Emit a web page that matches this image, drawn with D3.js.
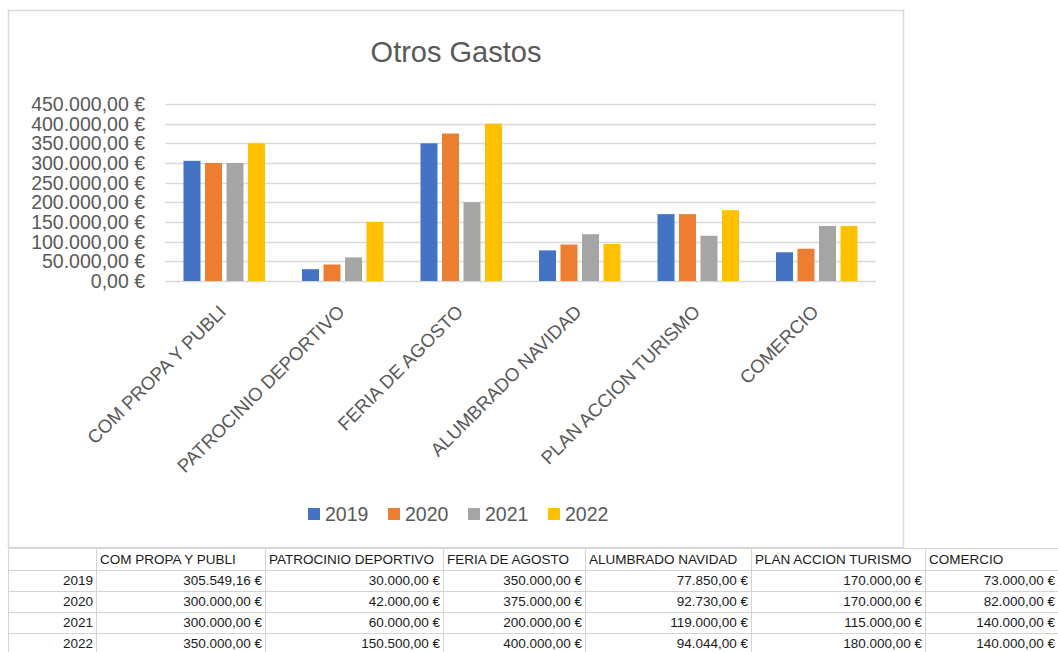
<!DOCTYPE html>
<html>
<head>
<meta charset="utf-8">
<script src="https://cdn.jsdelivr.net/npm/d3@7"></script>
<style>
  html, body { margin: 0; padding: 0; background: #fff; }
  svg { display: block; font-family: "Liberation Sans", Arial, sans-serif; }
</style>
</head>
<body>
<svg id="chart" width="1058" height="652"></svg>
<script>
const title = "Otros Gastos";
const categories = ["COM PROPA Y PUBLI", "PATROCINIO DEPORTIVO", "FERIA DE AGOSTO", "ALUMBRADO NAVIDAD", "PLAN ACCION TURISMO", "COMERCIO"];
const years = ["2019", "2020", "2021", "2022"];
const values2019 = [305549.16, 30000, 350000, 77850, 170000, 73000];
const values2020 = [300000, 42000, 375000, 92730, 170000, 82000];
const values2021 = [300000, 60000, 200000, 119000, 115000, 140000];
const values2022 = [350000, 150500, 400000, 94044, 180000, 140000];
const yTicks = [0, 50000, 100000, 150000, 200000, 250000, 300000, 350000, 400000, 450000];
const colors = ["#4472C4", "#ED7D31", "#A5A5A5", "#FFC000"];

const series = [values2019, values2020, values2021, values2022];

const locale = d3.formatLocale({ decimal: ",", thousands: ".", grouping: [3], currency: ["", " €"] });
const fmt = locale.format("$,.2f");

const svg = d3.select("#chart");
const W = 1058, H = 652;

// chart box
svg.append("rect").attr("x", 8.5).attr("y", 10.5).attr("width", 895).attr("height", 537)
  .attr("fill", "#fff").attr("stroke", "#d9d9d9").attr("stroke-width", 1.5);

svg.append("text").attr("x", 456).attr("y", 62).attr("text-anchor", "middle")
  .attr("font-size", 29).attr("fill", "#595959").text(title);

const plot = { left: 165, right: 876, top: 104, bottom: 281 };
const y = d3.scaleLinear().domain([0, 450000]).range([plot.bottom, plot.top]);
const x0 = d3.scaleBand().domain(categories).range([plot.left, plot.right]).padding(0);
const x1 = d3.scaleBand().domain(years).range([18.5, 100]).paddingInner(0.21).paddingOuter(0);

// gridlines
svg.append("g").selectAll("line").data(yTicks).join("line")
  .attr("x1", plot.left).attr("x2", plot.right)
  .attr("y1", d => Math.round(y(d)) + 0.5).attr("y2", d => Math.round(y(d)) + 0.5)
  .attr("stroke", "#d9d9d9").attr("stroke-width", 1.5);

// y labels
svg.append("g").selectAll("text").data(yTicks).join("text")
  .attr("x", 145).attr("y", d => y(d)).attr("dy", "0.36em")
  .attr("text-anchor", "end").attr("font-size", 19.5).attr("fill", "#595959")
  .text(d => fmt(d));

// bars
const groups = svg.append("g").selectAll("g").data(categories).join("g")
  .attr("transform", d => `translate(${x0(d)},0)`);
groups.selectAll("rect").data((c, i) => years.map((yr, j) => ({ yr, v: series[j][i], j })))
  .join("rect")
  .attr("x", d => x1(d.yr)).attr("width", x1.bandwidth())
  .attr("y", d => y(d.v)).attr("height", d => y(0) - y(d.v))
  .attr("fill", d => colors[d.j]);

// x labels
svg.append("g").selectAll("text").data(categories).join("text")
  .attr("transform", d => `translate(${x0(d) + x0.bandwidth() / 2 + 3},${plot.bottom + 32}) rotate(-45)`)
  .attr("text-anchor", "end").attr("font-size", 18.6).attr("fill", "#595959")
  .text(d => d);

// legend
const lg = svg.append("g").selectAll("g").data(years).join("g")
  .attr("transform", (d, i) => `translate(${308 + i * 80},508)`);
lg.append("rect").attr("width", 12).attr("height", 12).attr("fill", (d, i) => colors[i]);
lg.append("text").attr("x", 17).attr("y", 6).attr("dy", "0.36em")
  .attr("font-size", 19.5).attr("fill", "#595959").text(d => d);

// table
const colEdges = [8, 96, 265, 443, 585, 751, 925, 1060];
const rowEdges = [548, 570, 591, 612, 633, 654];
const tg = svg.append("g");
tg.append("rect").attr("x", 0).attr("y", 548).attr("width", W).attr("height", 110).attr("fill", "#fff");
rowEdges.forEach(r => tg.append("line").attr("x1", 8).attr("x2", W).attr("y1", r + 0.5).attr("y2", r + 0.5)
  .attr("stroke", "#d4d4d4").attr("stroke-width", 1));
colEdges.forEach(c => tg.append("line").attr("x1", c + 0.5).attr("x2", c + 0.5).attr("y1", 548).attr("y2", H)
  .attr("stroke", "#d4d4d4").attr("stroke-width", 1));
// header
categories.forEach((c, i) => {
  tg.append("text").attr("x", colEdges[i + 1] + 4).attr("y", (rowEdges[0] + rowEdges[1]) / 2).attr("dy", "0.36em")
    .attr("font-size", 13.5).attr("fill", "#1a1a1a").text(c);
});
years.forEach((yr, j) => {
  const cy = (rowEdges[j + 1] + rowEdges[j + 2]) / 2;
  tg.append("text").attr("x", colEdges[1] - 3).attr("y", cy).attr("dy", "0.36em").attr("text-anchor", "end")
    .attr("font-size", 13.5).attr("fill", "#1a1a1a").text(yr);
  categories.forEach((c, i) => {
    const right = Math.min(colEdges[i + 2], W) - 3;
    tg.append("text").attr("x", right).attr("y", cy).attr("dy", "0.36em").attr("text-anchor", "end")
      .attr("font-size", 13.5).attr("fill", "#1a1a1a").text(fmt(series[j][i]));
  });
});
</script>
</body>
</html>
